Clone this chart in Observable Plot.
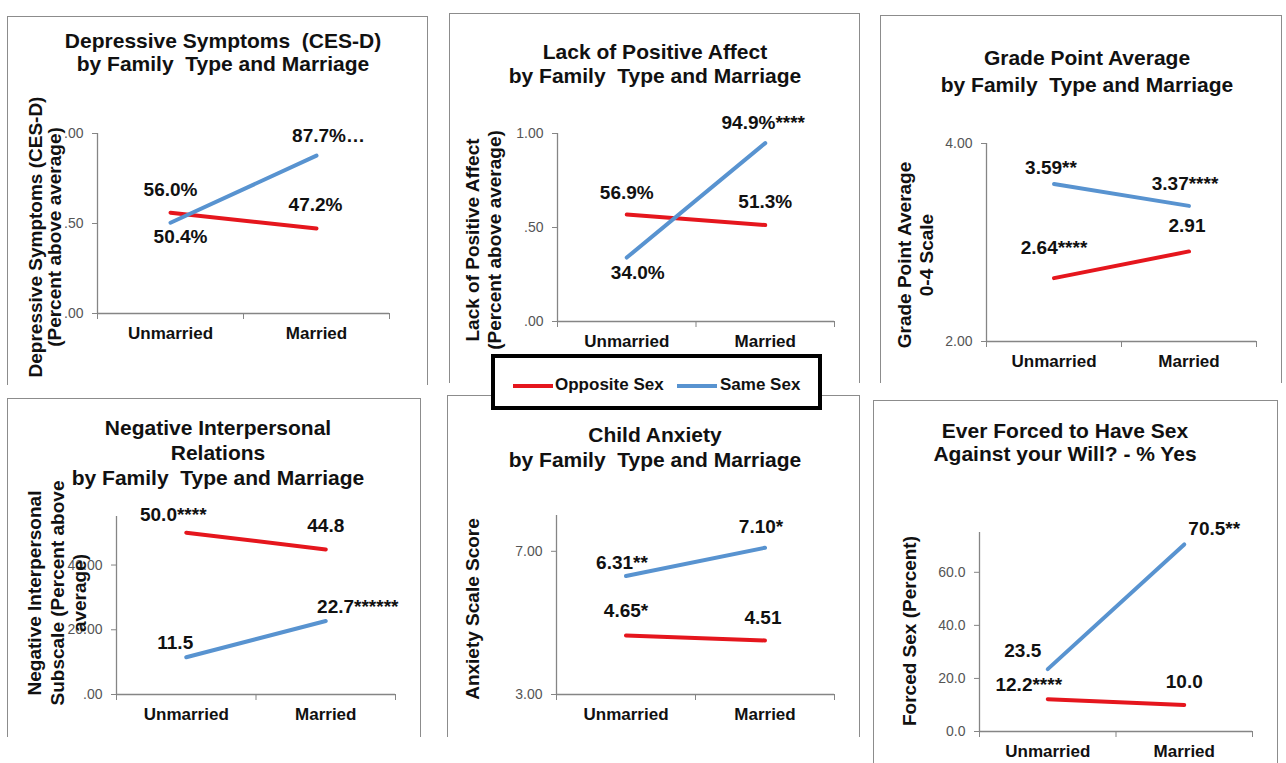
<!DOCTYPE html>
<html>
<head>
<meta charset="utf-8">
<script src="https://cdn.jsdelivr.net/npm/d3@7"></script>
<script src="https://cdn.jsdelivr.net/npm/@observablehq/plot@0.6"></script>
<style>
  body { margin: 0; background: #fff; font-family: "Liberation Sans", Arial, sans-serif; }
  #page { position: relative; width: 1286px; height: 763px; overflow: hidden; background: #fff; }
  .frame { position: absolute; border: 1px solid #8c8c8c; border-bottom: none; box-sizing: border-box; }
  .title { position: absolute; text-align: center; font-weight: bold; font-size: 21px; color: #111; white-space: pre; width: 420px; }
  .ytitle { position: absolute; text-align: center; font-weight: bold; font-size: 19px; color: #111; white-space: pre; transform: translate(-50%, -50%) rotate(-90deg); }
  .legend { position: absolute; left: 491px; top: 354px; width: 331px; height: 56px; border: 4px solid #000; box-sizing: border-box; background: #fff; }
  .legend .sw { position: absolute; height: 4px; width: 40px; top: 26px; }
  .legend .lt { position: absolute; top: 17px; font-size: 17px; font-weight: bold; color: #111; line-height: 20px; }
</style>
</head>
<body>
<div id="page"></div>
<script>
// ---------- data ----------
const categories = ["Unmarried", "Married"];
const seriesNames = ["Opposite Sex", "Same Sex"];
const seriesColors = ["#e5161d", "#5893d0"];

const panelTitles = [
  "Depressive Symptoms  (CES-D)\nby Family  Type and Marriage",
  "Lack of Positive Affect\nby Family  Type and Marriage",
  "Grade Point Average\nby Family  Type and Marriage",
  "Negative Interpersonal\nRelations\nby Family  Type and Marriage",
  "Child Anxiety\nby Family  Type and Marriage",
  "Ever Forced to Have Sex\nAgainst your Will? - % Yes"
];
const yAxisTitles = [
  "Depressive Symptoms (CES-D)\n(Percent above average)",
  "Lack of Positive Affect\n(Percent above average)",
  "Grade Point Average\n0-4 Scale",
  "Negative Interpersonal\nSubscale (Percent above\naverage)",
  "Anxiety Scale Score",
  "Forced Sex (Percent)"
];

const cesdOpposite = [0.560, 0.472];
const cesdSame = [0.504, 0.877];
const cesdOppositeLabels = ["56.0%", "47.2%"];
const cesdSameLabels = ["50.4%", "87.7%…"];
const cesdTicks = [0, 0.5, 1];

const affectOpposite = [0.569, 0.513];
const affectSame = [0.340, 0.949];
const affectOppositeLabels = ["56.9%", "51.3%"];
const affectSameLabels = ["34.0%", "94.9%****"];
const affectTicks = [0, 0.5, 1];

const gpaOpposite = [2.64, 2.91];
const gpaSame = [3.59, 3.37];
const gpaOppositeLabels = ["2.64****", "2.91"];
const gpaSameLabels = ["3.59**", "3.37****"];
const gpaTicks = [2, 4];

const nirOpposite = [50.0, 44.8];
const nirSame = [11.5, 22.7];
const nirOppositeLabels = ["50.0****", "44.8"];
const nirSameLabels = ["11.5", "22.7******"];
const nirTicks = [0, 20, 40];

const anxietyOpposite = [4.65, 4.51];
const anxietySame = [6.31, 7.10];
const anxietyOppositeLabels = ["4.65*", "4.51"];
const anxietySameLabels = ["6.31**", "7.10*"];
const anxietyTicks = [3, 7];

const forcedOpposite = [12.2, 10.0];
const forcedSame = [23.5, 70.5];
const forcedOppositeLabels = ["12.2****", "10.0"];
const forcedSameLabels = ["23.5", "70.5**"];
const forcedTicks = [0, 20, 40, 60];

// ---------- layout / drawing ----------
const page = document.getElementById("page");
const axisColor = "#858585";
const fmt2 = d => (d < 1 ? d.toFixed(2).replace(/^0/, "") : d.toFixed(2));
const fmt1 = d => d.toFixed(1);

const panels = [
  { frame: [7, 16, 421, 369], x0: 97, x1: 389, yTop: 133, yBottom: 313, domain: [0, 1], ticks: cesdTicks, format: fmt2,
    series: [cesdOpposite, cesdSame], labels: [cesdOppositeLabels, cesdSameLabels],
    offsets: [[[0, -23], [-1, -24]], [[10, 14], [12, -20]]],
    title: [223, 28.5, 23], ytitle: [45, 237, 19], ytitleCover: true },
  { frame: [449, 13, 411, 370], x0: 557, x1: 834, yTop: 133, yBottom: 321, domain: [0, 1], ticks: affectTicks, format: fmt2,
    series: [affectOpposite, affectSame], labels: [affectOppositeLabels, affectSameLabels],
    offsets: [[[0, -22], [0, -23]], [[11, 15], [-2, -20]]],
    title: [655, 40, 24], ytitle: [484, 240, 22] },
  { frame: [880, 15, 402, 368], x0: 986, x1: 1256, yTop: 143, yBottom: 341, domain: [2, 4], ticks: gpaTicks, format: fmt2,
    series: [gpaOpposite, gpaSame], labels: [gpaOppositeLabels, gpaSameLabels],
    offsets: [[[0, -30], [-2, -26]], [[-3, -16], [-4, -22]]],
    title: [1087, 43.5, 27], ytitle: [916, 255, 22] },
  { frame: [7, 398, 414, 339], x0: 116, x1: 395, yTop: 516, yBottom: 694, domain: [0, 55], ticks: nirTicks, format: fmt2,
    series: [nirOpposite, nirSame], labels: [nirOppositeLabels, nirSameLabels],
    offsets: [[[-13, -18], [0, -24]], [[-11, -14], [32, -14]]],
    title: [218, 414.5, 25], ytitle: [58, 593, 22.5] },
  { frame: [447, 395, 413, 342], x0: 556, x1: 834, yTop: 515, yBottom: 694, domain: [3, 8], ticks: anxietyTicks, format: fmt2,
    series: [anxietyOpposite, anxietySame], labels: [anxietyOppositeLabels, anxietySameLabels],
    offsets: [[[0, -25], [-2, -23]], [[-4, -13], [-4, -21]]],
    title: [655, 421.5, 25], ytitle: [473, 609, 22] },
  { frame: [873, 400, 405, 363], x0: 979, x1: 1252, yTop: 532, yBottom: 731, domain: [0, 75], ticks: forcedTicks, format: fmt1,
    series: [forcedOpposite, forcedSame], labels: [forcedOppositeLabels, forcedSameLabels],
    offsets: [[[-19, -14], [0, -23]], [[-25, -18], [30, -16]]],
    title: [1065, 418.5, 23], ytitle: [910, 631, 22] }
];

function el(cls, styles, text) {
  const d = document.createElement("div");
  d.className = cls;
  Object.assign(d.style, styles);
  if (text != null) d.textContent = text;
  page.appendChild(d);
  return d;
}

panels.forEach(p => {
  const [fl, ft, fw, fh] = p.frame;
  el("frame", { left: fl + "px", top: ft + "px", width: fw + "px", height: fh + "px" });
});

panels.forEach((p, k) => {
  const padL = 75, padR = 85, padT = 60, padB = 45;
  const plotW = p.x1 - p.x0, plotH = p.yBottom - p.yTop;
  const rows = [];
  p.series.forEach((vals, s) => vals.forEach((v, i) => rows.push({
    series: seriesNames[s], pos: i + 0.5, value: v, label: p.labels[s][i], s, i
  })));
  const labelMarks = rows.map(r => Plot.text([r], {
    x: "pos", y: "value", text: "label",
    dx: p.offsets[r.s][r.i][0], dy: p.offsets[r.s][r.i][1],
    fontSize: 19, fontWeight: "bold", fill: "#111"
  }));
  const svg = Plot.plot({
    width: plotW + padL + padR,
    height: plotH + padT + padB,
    marginLeft: padL, marginRight: padR, marginTop: padT, marginBottom: padB,
    x: { domain: [0, 2], axis: null },
    y: { domain: p.domain, axis: null },
    color: { domain: seriesNames, range: seriesColors },
    marks: [
      Plot.ruleY([p.domain[0]], { stroke: axisColor, strokeWidth: 1.3 }),
      Plot.ruleX([0], { stroke: axisColor, strokeWidth: 1.3 }),
      Plot.axisY({ ticks: p.ticks, tickSize: 5, tickPadding: 9, tickFormat: p.format, fontSize: 14,
        stroke: axisColor, fill: "#555", label: null }),
      Plot.axisX({ ticks: [0, 1, 2], tickSize: 6, tickFormat: () => "", stroke: axisColor, label: null }),
      Plot.axisX({ ticks: [0.5, 1.5], tickSize: 0, tickPadding: 13, tickFormat: d => categories[Math.floor(d)],
        fontSize: 17, fontWeight: "bold", fill: "#111", label: null }),
      Plot.line(rows, { x: "pos", y: "value", z: "series", stroke: "series", strokeWidth: 4 }),
      ...labelMarks
    ]
  });
  svg.style.position = "absolute";
  svg.style.left = (p.x0 - padL) + "px";
  svg.style.top = (p.yTop - padT) + "px";
  svg.style.background = "transparent";
  svg.style.overflow = "visible";
  svg.style.maxWidth = "none";
  svg.style.fontFamily = "'Liberation Sans', Arial, sans-serif";
  page.appendChild(svg);
});

panels.forEach((p, k) => {
  const [cx, top, lh] = p.title;
  el("title", { left: (cx - 210) + "px", top: top + "px", lineHeight: lh + "px" }, panelTitles[k]);
  const [ycx, ycy, ylh] = p.ytitle;
  const st = { left: ycx + "px", top: ycy + "px", lineHeight: ylh + "px" };
  if (p.ytitleCover) { st.background = "#fff"; st.paddingBottom = "1px"; }
  el("ytitle", st, yAxisTitles[k]);
});

// legend
const legend = el("legend", {});
const swPos = [18, 182], txtPos = [60, 225];
seriesNames.forEach((name, s) => {
  const sw = document.createElement("div");
  sw.className = "sw";
  sw.style.left = swPos[s] + "px";
  sw.style.background = seriesColors[s];
  legend.appendChild(sw);
  const t = document.createElement("div");
  t.className = "lt";
  t.style.left = txtPos[s] + "px";
  t.textContent = name;
  legend.appendChild(t);
});
</script>
</body>
</html>
